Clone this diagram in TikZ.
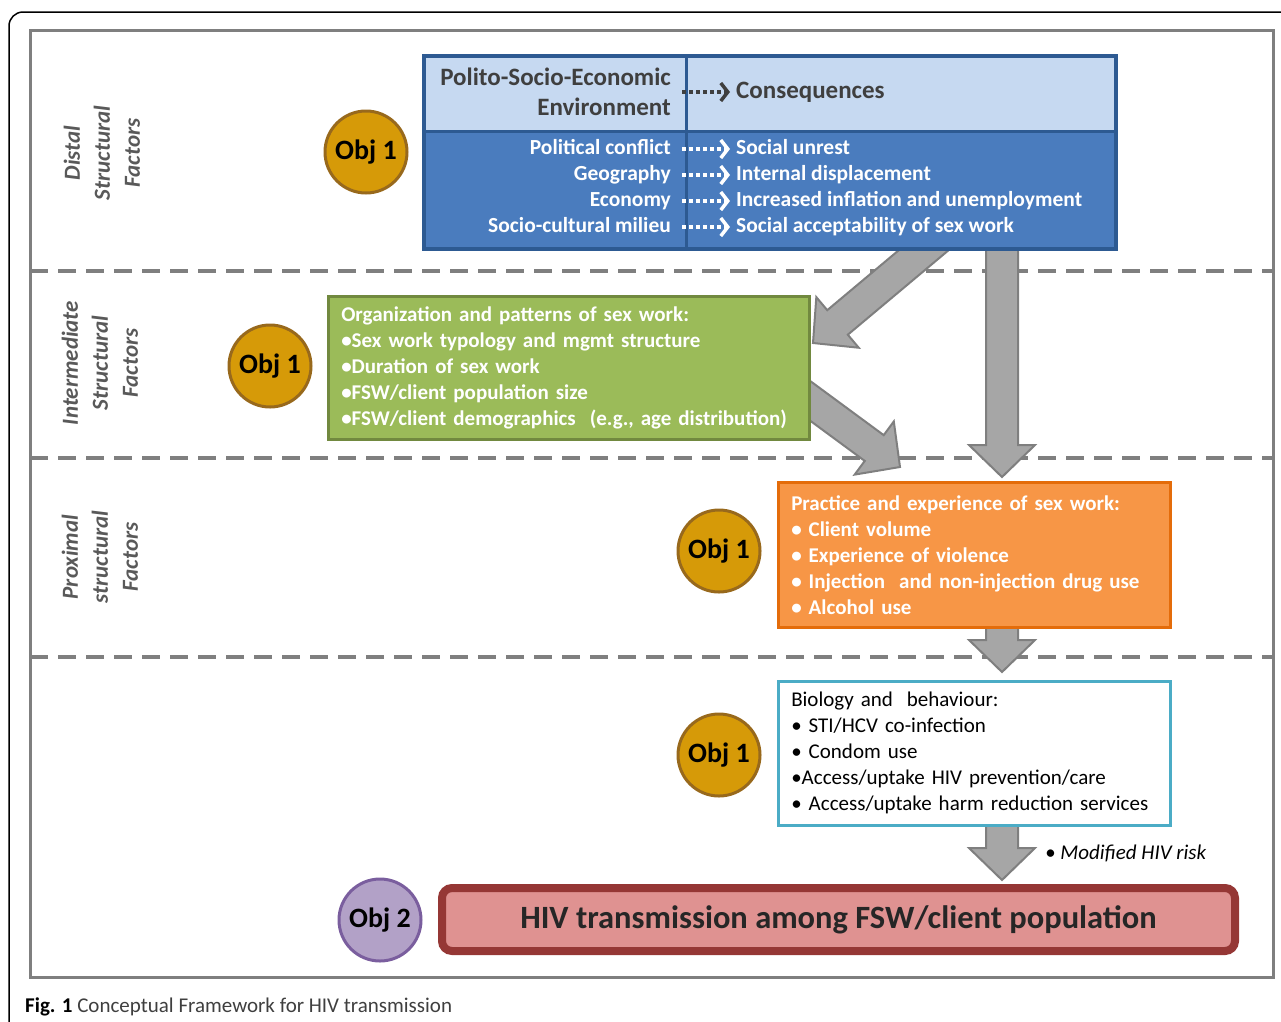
\documentclass[tikz,border=0pt]{standalone}
\usepackage{fontspec}
\setmainfont{Carlito}
\usetikzlibrary{calc,positioning,arrows.meta}

\definecolor{bandgray}{HTML}{7F7F7F}
\definecolor{labelgray}{HTML}{595959}
\definecolor{darktext}{HTML}{3F3F3F}
\definecolor{pale}{HTML}{C6D9F1}
\definecolor{deepblue}{HTML}{4A7CBE}
\definecolor{blueedge}{HTML}{2D5A92}
\definecolor{leafgreen}{HTML}{9BBB59}
\definecolor{leafedge}{HTML}{71893F}
\definecolor{amber}{HTML}{F79646}
\definecolor{amberedge}{HTML}{E46C0A}
\definecolor{cyanedge}{HTML}{4BACC6}
\definecolor{rose}{HTML}{DF9291}
\definecolor{roseedge}{HTML}{953735}
\definecolor{gold}{HTML}{D69A08}
\definecolor{goldedge}{HTML}{98691C}
\definecolor{lilac}{HTML}{B2A1C7}
\definecolor{lilacedge}{HTML}{7A5E9E}
\definecolor{arrowfill}{HTML}{A6A6A6}
\definecolor{arrowedge}{HTML}{7F7F7F}

% fat grey arrow from #1 to #2
\newcommand{\blockarrow}[2]{%
  \coordinate (bh) at ($(#2)!32pt!(#1)$);
  \filldraw[blockarr] ($(#1)!16pt!90:(#2)$) -- ($(bh)!16pt!90:(#2)$) -- ($(bh)!33pt!90:(#2)$) -- (#2)
    -- ($(bh)!33pt!-90:(#2)$) -- ($(bh)!16pt!-90:(#2)$) -- ($(#1)!16pt!-90:(#2)$) -- cycle;}

\begin{document}
\begin{tikzpicture}[x=1pt,y=-1pt,
    band/.style={bandgray,line width=4pt,dash pattern=on 18pt off 10pt},
    side/.style={rotate=90,align=center,text=labelgray,font=\fontsize{23}{30}\selectfont\bfseries\itshape},
    obj/.style={circle,line width=3pt,minimum size=82pt,inner sep=0pt,font=\fontsize{28}{30}\selectfont\bfseries},
    objone/.style={obj,fill=gold,draw=goldedge},
    objtwo/.style={obj,fill=lilac,draw=lilacedge},
    hdrcell/.style={anchor=north west,draw=blueedge,line width=2.5pt,fill=pale,minimum height=75pt,inner sep=0pt},
    bodycell/.style={anchor=north west,draw=blueedge,line width=2.5pt,fill=deepblue,minimum height=117pt,inner sep=0pt},
    hdrtext/.style={inner sep=0pt,text=darktext,font=\fontsize{25}{30}\selectfont\bfseries},
    rowtext/.style={inner sep=0pt,text=white,font=\fontsize{21.5}{26}\selectfont\bfseries,text height=15pt,text depth=5pt},
    dotlink/.style={line width=3.5pt,dash pattern=on 3.5pt off 3.5pt,-{Straight Barb[length=7pt,width=18pt]},shorten <=11pt,shorten >=6pt},
    listbox/.style={anchor=north west,line width=2.5pt,align=left,inner xsep=13pt,minimum width=392pt,text width=366pt,font=\fontsize{21}{26}\selectfont},
    boldlist/.style={listbox,text=white,font=\fontsize{21}{26}\selectfont\bfseries},
    blockarr/.style={fill=arrowfill,draw=arrowedge,line width=2pt,line join=miter}]
    \useasboundingbox (0,0) rectangle (1281,1021);
    % frames and bands
    \draw[line width=1.5pt,rounded corners=14pt] (9,1040) -- (9,12) -- (1300,12);
    \draw[bandgray,line width=3pt] (30,30) rectangle (1273,977);
    \draw[band] (30,271) -- (1273,271);
    \draw[band] (30,458) -- (1273,458);
    \draw[band] (30,657) -- (1273,657);
    \node[side] (distal) at (102,153) {Distal\\Structural\\Factors};
    \node[side] (inter) at (100,363) {Intermediate\\Structural\\Factors};
    \node[side] (prox) at (100,557) {Proximal\\structural\\Factors};
    % fat arrows
    \coordinate (a1from) at (1002,240);
    \coordinate (a1to) at (1002,477);
    \coordinate (a2from) at (943,234);
    \coordinate (a2to) at (813,343);
    \coordinate (a3from) at (790,386);
    \coordinate (a3to) at (900,467);
    \coordinate (a4from) at (1002,620);
    \coordinate (a4to) at (1002,672);
    \coordinate (a5from) at (1002,818);
    \coordinate (a5to) at (1002,880);
    \blockarrow{a1from}{a1to}
    \blockarrow{a2from}{a2to}
    \blockarrow{a3from}{a3to}
    \blockarrow{a4from}{a4to}
    \blockarrow{a5from}{a5to}
    % distal box
    \node[hdrcell,minimum width=262pt] (envcell) at (423,55) {};
    \node[hdrcell,minimum width=429pt] (conscell) at (685,55) {};
    \node[bodycell,minimum width=262pt] (causecell) at (423,130) {};
    \node[bodycell,minimum width=429pt] (effectcell) at (685,130) {};
    \draw[blueedge,line width=3pt] (envcell.north west) rectangle (effectcell.south east);
    \node[hdrtext,anchor=east,align=right] (env) at (671,92) {Polito-Socio-Economic\\Environment};
    \node[hdrtext,anchor=west] (cons) at (736,92) {Consequences};
    \draw[dotlink,darktext] (env) -- (cons);
    \node[rowtext,anchor=east] (pc) at (671,149) {Political conflict};
    \node[rowtext,anchor=west] (unrest) at (736,149) {Social unrest};
    \node[rowtext,anchor=east] (geo) at (671,175) {Geography};
    \node[rowtext,anchor=west] (displ) at (736,175) {Internal displacement};
    \node[rowtext,anchor=east] (econ) at (671,201) {Economy};
    \node[rowtext,anchor=west] (infl) at (736,201) {Increased inflation and unemployment};
    \node[rowtext,anchor=east] (milieu) at (671,227) {Socio-cultural milieu};
    \node[rowtext,anchor=west] (accept) at (736,227) {Social acceptability of sex work};
    \draw[dotlink,white] (pc) -- (unrest);
    \draw[dotlink,white] (geo) -- (displ);
    \draw[dotlink,white] (econ) -- (infl);
    \draw[dotlink,white] (milieu) -- (accept);
    % lower boxes
    \node[boldlist,draw=leafedge,fill=leafgreen,minimum width=481pt,text width=455pt,minimum height=143pt] (org) at (327,295)
      {Organization and patterns of sex work:\\
       •Sex work typology and mgmt structure\\
       •Duration of sex work\\
       •FSW/client population size\\
       •FSW/client demographics~ (e.g., age distribution)};
    \node[boldlist,draw=amberedge,fill=amber,minimum height=145pt] (practice) at (777,481)
      {Practice and experience of sex work:\\
       • Client volume\\
       • Experience of violence\\
       • Injection~ and non-injection drug use\\
       • Alcohol use};
    \node[listbox,draw=cyanedge,fill=white,minimum height=144pt] (bio) at (777,680)
      {Biology and~ behaviour:\\
       • STI/HCV co-infection\\
       • Condom use\\
       •Access/uptake HIV prevention/care\\
       • Access/uptake harm reduction services};
    \node[draw=roseedge,fill=rose,line width=8pt,rounded corners=10pt,minimum width=793pt,minimum height=63pt,text=black!85,font=\fontsize{32.5}{36}\selectfont\bfseries] (hiv) at (838.5,919.5)
      {HIV transmission among FSW/client population};
    \node[anchor=west,inner sep=0pt,font=\fontsize{21}{24}\selectfont\itshape] (risk) at (1045,853) {• Modified HIV risk};
    % objectives
    \node[objone] (o1a) at (366,152) {Obj 1};
    \node[objone] (o1b) at (270,366) {Obj 1};
    \node[objone] (o1c) at (719,551) {Obj 1};
    \node[objone] (o1d) at (719,755) {Obj 1};
    \node[objtwo] (o2) at (380,920) {Obj 2};
    % caption
    \node[anchor=base west,inner sep=0pt,text=darktext,font=\fontsize{21}{24}\selectfont] (cap) at (25,1012)
      {\textcolor{black}{\textbf{Fig. 1}} Conceptual Framework for HIV transmission};
\end{tikzpicture}
\end{document}
